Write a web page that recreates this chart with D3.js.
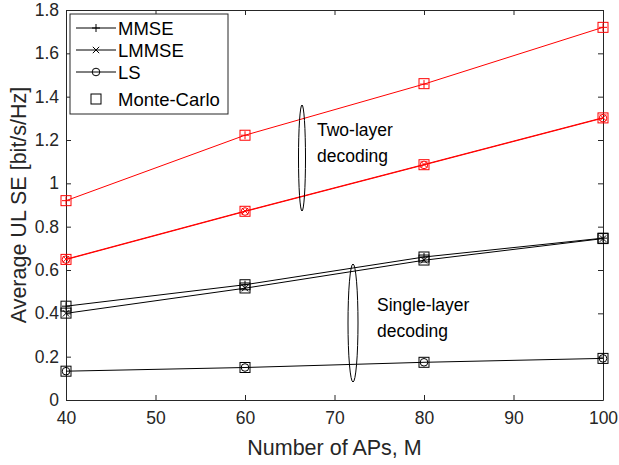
<!DOCTYPE html>
<html>
<head>
<meta charset="utf-8">
<script src="https://cdn.jsdelivr.net/npm/d3@7"></script>
<style>
  html, body { margin: 0; padding: 0; background: #fff; }
  svg { display: block; font-family: "Liberation Sans", Arial, Helvetica, sans-serif; }
</style>
</head>
<body>
<svg id="chart" width="619" height="465"></svg>
<script>
// Number of access points on the x-axis
const apCounts = [40, 60, 80, 100];

// Two-layer decoding, analytical curves
const twoLayerMMSE  = [0.92, 1.222, 1.458, 1.72];
const twoLayerLMMSE = [0.650, 0.872, 1.087, 1.303];
const twoLayerLS    = [0.648, 0.870, 1.085, 1.301];

// Single-layer decoding, analytical curves
const singleLayerMMSE  = [0.433, 0.532, 0.66, 0.747];
const singleLayerLMMSE = [0.400, 0.516, 0.645, 0.745];
const singleLayerLS    = [0.133, 0.150, 0.174, 0.192];

// Monte-Carlo simulation points
const mcTwoLayerMMSE     = [0.92, 1.222, 1.46, 1.72];
const mcTwoLayerLS       = [0.649, 0.871, 1.086, 1.302];
const mcSingleLayerMMSE  = [0.433, 0.532, 0.66, 0.747];
const mcSingleLayerLMMSE = [0.401, 0.517, 0.646, 0.745];
const mcSingleLayerLS    = [0.133, 0.150, 0.174, 0.192];

const xTicks = [40, 50, 60, 70, 80, 90, 100];
const yTicks = [0, 0.2, 0.4, 0.6, 0.8, 1, 1.2, 1.4, 1.6, 1.8];

const legendLabels = ["MMSE", "LMMSE", "LS", "Monte-Carlo"];

const svg = d3.select("#chart");
const margin = { left: 66, right: 16, top: 10, bottom: 65 };
const W = 619, H = 465;
const x = d3.scaleLinear().domain([40, 100]).range([margin.left, W - margin.right]);
const y = d3.scaleLinear().domain([0, 1.8]).range([H - margin.bottom, margin.top]);

const axisColor = "#262626";
const tickFont = 17.5;
const titleFont = 21.5;

// Axes with inward ticks on all four sides
function styleAxis(g) {
  g.select(".domain").attr("stroke", axisColor).attr("stroke-width", 1);
  g.selectAll(".tick line").attr("stroke", axisColor);
  g.selectAll(".tick text").attr("fill", axisColor).style("font-size", tickFont + "px")
    .style("font-family", "'Liberation Sans', Arial, sans-serif");
}
const tickLen = 5;
svg.append("g").attr("transform", `translate(0,${y(0)})`)
  .call(d3.axisBottom(x).tickValues(xTicks).tickSizeInner(-tickLen).tickSizeOuter(0).tickPadding(12).tickFormat(d3.format("d")))
  .call(styleAxis);
svg.append("g").attr("transform", `translate(0,${y(1.8)})`)
  .call(d3.axisTop(x).tickValues(xTicks).tickSizeInner(-tickLen).tickSizeOuter(0).tickFormat(""))
  .call(styleAxis);
svg.append("g").attr("transform", `translate(${x(40)},0)`)
  .call(d3.axisLeft(y).tickValues(yTicks).tickSizeInner(-tickLen).tickSizeOuter(0).tickPadding(7).tickFormat(d => d3.format("")(+d.toFixed(1))))
  .call(styleAxis);
svg.append("g").attr("transform", `translate(${x(100)},0)`)
  .call(d3.axisRight(y).tickValues(yTicks).tickSizeInner(-tickLen).tickSizeOuter(0).tickFormat(""))
  .call(styleAxis);

// Axis titles
svg.append("text").attr("x", (x(40) + x(100)) / 2).attr("y", 455)
  .attr("text-anchor", "middle").attr("fill", axisColor).style("font-size", titleFont + "px")
  .text("Number of APs, M");
svg.append("text").attr("transform", `translate(26,${(y(0) + y(1.8)) / 2}) rotate(-90)`)
  .attr("text-anchor", "middle").attr("fill", axisColor).style("font-size", titleFont + "px")
  .text("Average UL SE [bit/s/Hz]");

const line = d3.line().x((d, i) => x(apCounts[i])).y(d => y(d));
const plot = svg.append("g");

// Marker drawers
function plus(g, cx, cy, color) {
  const s = 4;
  g.append("path").attr("d", `M${cx - s},${cy}H${cx + s}M${cx},${cy - s}V${cy + s}`)
    .attr("stroke", color).attr("stroke-width", 1).attr("fill", "none");
}
function cross(g, cx, cy, color) {
  const s = 3.2;
  g.append("path").attr("d", `M${cx - s},${cy - s}L${cx + s},${cy + s}M${cx - s},${cy + s}L${cx + s},${cy - s}`)
    .attr("stroke", color).attr("stroke-width", 1).attr("fill", "none");
}
function circle(g, cx, cy, color) {
  g.append("circle").attr("cx", cx).attr("cy", cy).attr("r", 3.8)
    .attr("stroke", color).attr("stroke-width", 1).attr("fill", "none");
}
function square(g, cx, cy, color) {
  const s = 5;
  g.append("rect").attr("x", cx - s).attr("y", cy - s).attr("width", 2 * s).attr("height", 2 * s)
    .attr("stroke", color).attr("stroke-width", 1).attr("fill", "none");
}

const curves = [
  { v: twoLayerMMSE, color: "#ff0000", marker: plus },
  { v: twoLayerLMMSE, color: "#ff0000", marker: cross },
  { v: twoLayerLS, color: "#ff0000", marker: circle },
  { v: singleLayerMMSE, color: "#000000", marker: plus },
  { v: singleLayerLMMSE, color: "#000000", marker: cross },
  { v: singleLayerLS, color: "#000000", marker: circle }
];
curves.forEach(c => {
  plot.append("path").datum(c.v).attr("d", line).attr("fill", "none")
    .attr("stroke", c.color).attr("stroke-width", 1);
  c.v.forEach((d, i) => c.marker(plot, x(apCounts[i]), y(d), c.color));
});

const mcSets = [
  { v: mcTwoLayerMMSE, color: "#ff0000" },
  { v: mcTwoLayerLS, color: "#ff0000" },
  { v: mcSingleLayerMMSE, color: "#000000" },
  { v: mcSingleLayerLMMSE, color: "#000000" },
  { v: mcSingleLayerLS, color: "#000000" }
];
mcSets.forEach(s => s.v.forEach((d, i) => square(plot, x(apCounts[i]), y(d), s.color)));

// Group annotations: ellipses and labels
const noteFont = 17.5;
svg.append("ellipse").attr("cx", 302).attr("cy", 158).attr("rx", 3.5).attr("ry", 53)
  .attr("fill", "none").attr("stroke", "#000").attr("stroke-width", 1);
svg.append("text").attr("x", 317).attr("y", 136).attr("fill", "#000").style("font-size", noteFont + "px").text("Two-layer");
svg.append("text").attr("x", 317).attr("y", 162).attr("fill", "#000").style("font-size", noteFont + "px").text("decoding");

svg.append("ellipse").attr("cx", 353).attr("cy", 323).attr("rx", 5).attr("ry", 59)
  .attr("fill", "none").attr("stroke", "#000").attr("stroke-width", 1);
svg.append("text").attr("x", 377).attr("y", 311).attr("fill", "#000").style("font-size", noteFont + "px").text("Single-layer");
svg.append("text").attr("x", 377).attr("y", 337).attr("fill", "#000").style("font-size", noteFont + "px").text("decoding");

// Legend
const lg = svg.append("g");
lg.append("rect").attr("x", 70).attr("y", 14).attr("width", 158).attr("height", 100)
  .attr("fill", "#fff").attr("stroke", axisColor).attr("stroke-width", 1);
const legendMarkers = [plus, cross, circle];
legendLabels.forEach((lab, i) => {
  const cy = 28 + i * 22 + (i === 3 ? 5 : 0);
  if (i < 3) {
    lg.append("line").attr("x1", 76).attr("x2", 116).attr("y1", cy).attr("y2", cy)
      .attr("stroke", "#000").attr("stroke-width", 1);
    legendMarkers[i](lg, 96, cy, "#000");
  } else {
    square(lg, 96, cy, "#000");
  }
  lg.append("text").attr("x", 118).attr("y", cy + 6.5).attr("fill", "#000")
    .style("font-size", "18.5px").text(lab);
});
</script>
</body>
</html>
